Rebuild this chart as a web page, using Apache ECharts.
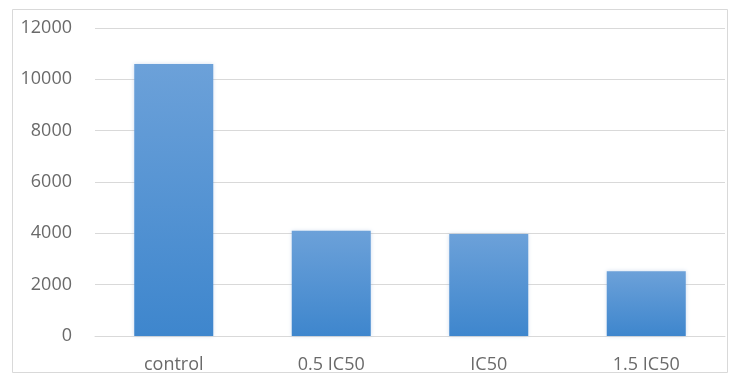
<!DOCTYPE html>
<html>
<head>
<meta charset="utf-8">
<script src="https://cdn.jsdelivr.net/npm/echarts@6/dist/echarts.min.js"></script>
<style>
  html, body { margin: 0; padding: 0; background: #ffffff; }
  #chart { width: 729px; height: 384px; }
</style>
</head>
<body>
<div id="chart"></div>
<script>
// Treatment groups and measured values
var categories = ['control', '0.5 IC50', 'IC50', '1.5 IC50'];
var values = [10600, 4100, 3970, 2520];
var yTicks = [0, 2000, 4000, 6000, 8000, 10000, 12000];

var textColor = '#6a6a6a';
var fontFamily = 'Open Sans, Lato, sans-serif';

var chart = echarts.init(document.getElementById('chart'), null, { renderer: 'canvas' });

chart.setOption({
  animation: false,
  backgroundColor: '#ffffff',
  graphic: [{
    type: 'rect',
    shape: { x: 12.5, y: 9.5, width: 715, height: 363 },
    style: { fill: 'none', stroke: '#d9d9d9', lineWidth: 1 },
    silent: true,
    z: -1
  }],
  grid: { left: 95, right: 4, top: 28, bottom: 48, containLabel: false },
  xAxis: {
    type: 'category',
    data: categories,
    axisLine: { show: true, lineStyle: { color: '#d9d9d9', width: 1 } },
    axisTick: { show: false },
    axisLabel: { color: textColor, fontSize: 18, fontFamily: fontFamily, margin: 20 }
  },
  yAxis: {
    type: 'value',
    min: yTicks[0],
    max: yTicks[yTicks.length - 1],
    interval: yTicks[1] - yTicks[0],
    axisLine: { show: false },
    axisTick: { show: false },
    splitLine: { lineStyle: { color: '#d9d9d9', width: 1 } },
    axisLabel: {
      color: textColor, fontSize: 18, fontFamily: fontFamily, margin: 23,
      formatter: function (v) { return String(v); }
    }
  },
  series: [{
    type: 'bar',
    data: values,
    barWidth: 79,
    itemStyle: {
      color: new echarts.graphic.LinearGradient(0, 0, 0, 1, [
        { offset: 0, color: '#6ca1d9' },
        { offset: 1, color: '#3e86cd' }
      ]),
      shadowColor: 'rgba(120,160,210,0.35)',
      shadowBlur: 4
    }
  }]
});
</script>
</body>
</html>
